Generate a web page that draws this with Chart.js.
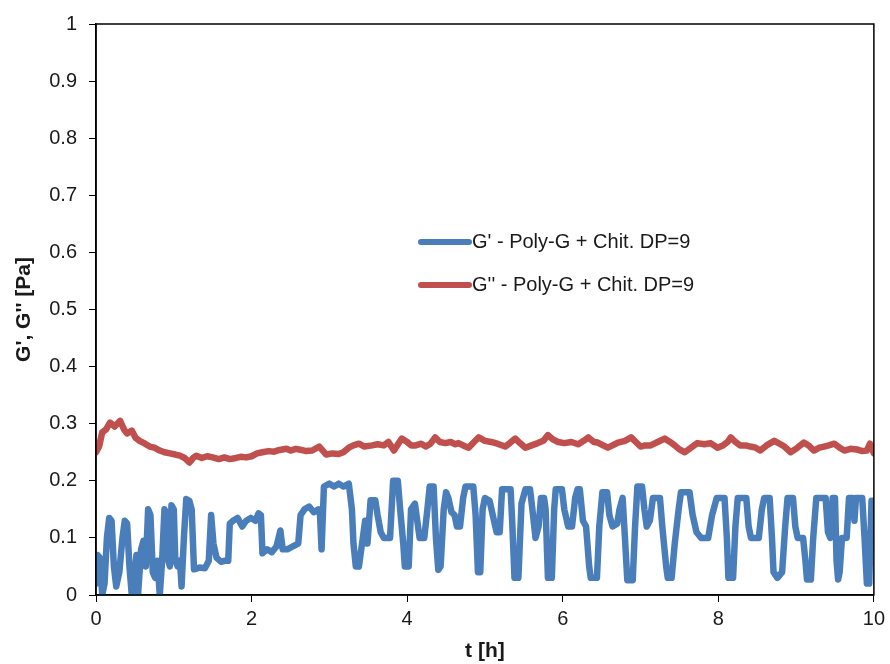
<!DOCTYPE html>
<html>
<head>
<meta charset="utf-8">
<script src="https://cdn.jsdelivr.net/npm/chart.js@4.4.1/dist/chart.umd.min.js"></script>
<style>
    html, body { margin: 0; padding: 0; background: #ffffff; }
    #wrap { width: 890px; height: 664px; }
</style>
</head>
<body>
<div id="wrap"><canvas id="rheo"></canvas></div>
<script>
// Storage modulus G' over time
const tStorage = [
    0.00, 0.02, 0.05, 0.08, 0.11, 0.14, 0.17, 0.20, 0.23, 0.26, 0.30, 0.34, 0.37, 0.40, 0.43, 0.46, 0.49, 0.52, 0.54, 0.58,
    0.61, 0.64, 0.67, 0.70, 0.73, 0.76, 0.79, 0.82, 0.85, 0.88, 0.91, 0.93, 0.95, 0.97, 1.00, 1.02, 1.05, 1.08, 1.10, 1.13,
    1.16, 1.20, 1.23, 1.26, 1.33, 1.40, 1.45, 1.48, 1.51, 1.55, 1.61, 1.66, 1.70, 1.72, 1.76, 1.82, 1.88, 1.93, 1.99, 2.05,
    2.09, 2.12, 2.14, 2.20, 2.26, 2.32, 2.37, 2.40, 2.46, 2.53, 2.60, 2.63, 2.68, 2.74, 2.80, 2.86, 2.88, 2.90, 2.93, 3.00,
    3.06, 3.12, 3.18, 3.25, 3.29, 3.31, 3.34, 3.38, 3.42, 3.46, 3.49, 3.53, 3.59, 3.62, 3.66, 3.70, 3.78, 3.82, 3.88, 3.91,
    3.95, 3.97, 4.02, 4.05, 4.10, 4.13, 4.16, 4.22, 4.26, 4.29, 4.34, 4.37, 4.40, 4.43, 4.47, 4.50, 4.53, 4.57, 4.61, 4.64,
    4.68, 4.72, 4.75, 4.85, 4.88, 4.91, 4.94, 4.97, 5.00, 5.06, 5.10, 5.15, 5.19, 5.22, 5.33, 5.35, 5.38, 5.43, 5.47, 5.52,
    5.58, 5.61, 5.65, 5.69, 5.72, 5.76, 5.78, 5.81, 5.86, 5.89, 5.91, 5.99, 6.02, 6.07, 6.12, 6.16, 6.19, 6.22, 6.26, 6.30,
    6.34, 6.36, 6.44, 6.47, 6.51, 6.57, 6.60, 6.64, 6.70, 6.73, 6.77, 6.80, 6.83, 6.90, 6.93, 6.96, 7.02, 7.05, 7.08, 7.12,
    7.16, 7.25, 7.28, 7.33, 7.35, 7.40, 7.44, 7.49, 7.52, 7.63, 7.67, 7.72, 7.78, 7.87, 7.92, 7.98, 8.08, 8.11, 8.13, 8.19,
    8.22, 8.25, 8.36, 8.39, 8.42, 8.52, 8.56, 8.59, 8.66, 8.69, 8.71, 8.76, 8.82, 8.86, 8.89, 8.96, 8.99, 9.02, 9.09, 9.12,
    9.14, 9.19, 9.22, 9.26, 9.38, 9.41, 9.44, 9.47, 9.50, 9.52, 9.54, 9.56, 9.59, 9.65, 9.68, 9.73, 9.75, 9.77, 9.85, 9.88,
    9.91, 9.94, 9.97, 10.00
];
const gStorage = [
    0.020, 0.070, 0.065, 0.000, 0.020, 0.100, 0.135, 0.130, 0.050, 0.015, 0.040, 0.100, 0.130, 0.125, 0.050, 0.000, 0.030, 0.070, 0.000, 0.080,
    0.095, 0.050, 0.150, 0.140, 0.040, 0.030, 0.060, 0.000, 0.060, 0.150, 0.140, 0.060, 0.050, 0.157, 0.150, 0.060, 0.050, 0.060, 0.015, 0.100,
    0.168, 0.165, 0.150, 0.045, 0.048, 0.047, 0.060, 0.140, 0.090, 0.065, 0.058, 0.060, 0.060, 0.125, 0.130, 0.135, 0.120, 0.130, 0.135, 0.130,
    0.143, 0.140, 0.073, 0.080, 0.075, 0.085, 0.113, 0.080, 0.080, 0.085, 0.090, 0.140, 0.150, 0.155, 0.145, 0.150, 0.140, 0.080, 0.190, 0.195,
    0.190, 0.195, 0.190, 0.195, 0.150, 0.090, 0.050, 0.050, 0.090, 0.130, 0.090, 0.166, 0.166, 0.140, 0.110, 0.100, 0.100, 0.200, 0.200, 0.150,
    0.090, 0.050, 0.050, 0.150, 0.160, 0.130, 0.100, 0.100, 0.150, 0.190, 0.190, 0.100, 0.044, 0.050, 0.150, 0.180, 0.170, 0.145, 0.140, 0.120,
    0.120, 0.170, 0.190, 0.190, 0.140, 0.040, 0.040, 0.150, 0.170, 0.165, 0.140, 0.110, 0.110, 0.185, 0.185, 0.130, 0.030, 0.030, 0.160, 0.185,
    0.185, 0.150, 0.100, 0.120, 0.170, 0.170, 0.150, 0.030, 0.030, 0.150, 0.185, 0.185, 0.150, 0.120, 0.120, 0.170, 0.185, 0.185, 0.130, 0.120,
    0.050, 0.030, 0.030, 0.120, 0.180, 0.180, 0.140, 0.120, 0.125, 0.150, 0.170, 0.100, 0.026, 0.026, 0.120, 0.190, 0.190, 0.150, 0.120, 0.130,
    0.170, 0.170, 0.120, 0.050, 0.030, 0.030, 0.090, 0.150, 0.180, 0.180, 0.140, 0.110, 0.100, 0.100, 0.140, 0.170, 0.170, 0.100, 0.030, 0.030,
    0.120, 0.170, 0.170, 0.120, 0.100, 0.100, 0.150, 0.170, 0.170, 0.100, 0.040, 0.030, 0.040, 0.120, 0.170, 0.170, 0.120, 0.100, 0.100, 0.060,
    0.027, 0.027, 0.100, 0.170, 0.170, 0.110, 0.100, 0.170, 0.170, 0.060, 0.027, 0.040, 0.100, 0.100, 0.170, 0.170, 0.130, 0.170, 0.170, 0.100,
    0.020, 0.020, 0.165, 0.165
];

// Loss modulus G'' over time
const tLoss = [
    0.00, 0.04, 0.08, 0.13, 0.18, 0.24, 0.31, 0.36, 0.40, 0.46, 0.51, 0.56, 0.63, 0.69, 0.75, 0.82, 0.88, 0.95, 1.02, 1.08,
    1.14, 1.20, 1.25, 1.29, 1.36, 1.43, 1.50, 1.58, 1.65, 1.72, 1.80, 1.86, 1.93, 2.00, 2.07, 2.14, 2.22, 2.29, 2.36, 2.45,
    2.50, 2.57, 2.64, 2.70, 2.78, 2.87, 2.96, 3.04, 3.12, 3.18, 3.25, 3.31, 3.38, 3.45, 3.55, 3.62, 3.70, 3.76, 3.83, 3.93,
    4.00, 4.05, 4.11, 4.18, 4.24, 4.30, 4.36, 4.42, 4.49, 4.56, 4.62, 4.66, 4.72, 4.79, 4.86, 4.92, 5.00, 5.08, 5.16, 5.26,
    5.32, 5.39, 5.45, 5.52, 5.60, 5.68, 5.75, 5.81, 5.88, 5.94, 6.02, 6.11, 6.20, 6.27, 6.33, 6.40, 6.45, 6.52, 6.58, 6.64,
    6.71, 6.80, 6.88, 6.94, 7.00, 7.06, 7.13, 7.22, 7.31, 7.38, 7.44, 7.50, 7.57, 7.65, 7.73, 7.82, 7.90, 7.99, 8.06, 8.12,
    8.16, 8.22, 8.28, 8.35, 8.41, 8.48, 8.54, 8.62, 8.72, 8.80, 8.85, 8.93, 9.00, 9.10, 9.16, 9.23, 9.30, 9.36, 9.42, 9.49,
    9.56, 9.62, 9.70, 9.78, 9.85, 9.91, 9.95, 10.00
];
const gLoss = [
    0.250, 0.260, 0.285, 0.290, 0.302, 0.295, 0.305, 0.290, 0.283, 0.288, 0.275, 0.270, 0.265, 0.260, 0.258, 0.253, 0.250, 0.248, 0.246, 0.244,
    0.240, 0.232, 0.240, 0.244, 0.240, 0.243, 0.241, 0.238, 0.241, 0.238, 0.240, 0.242, 0.241, 0.243, 0.248, 0.250, 0.252, 0.251, 0.254, 0.256,
    0.253, 0.256, 0.254, 0.252, 0.253, 0.260, 0.246, 0.248, 0.247, 0.250, 0.258, 0.262, 0.265, 0.260, 0.262, 0.264, 0.262, 0.268, 0.253, 0.274,
    0.268, 0.262, 0.262, 0.265, 0.260, 0.265, 0.276, 0.268, 0.266, 0.268, 0.264, 0.266, 0.262, 0.258, 0.268, 0.276, 0.270, 0.268, 0.265, 0.260,
    0.266, 0.274, 0.266, 0.258, 0.262, 0.266, 0.270, 0.280, 0.272, 0.268, 0.266, 0.268, 0.264, 0.270, 0.276, 0.268, 0.267, 0.262, 0.258, 0.262,
    0.267, 0.270, 0.276, 0.268, 0.260, 0.262, 0.262, 0.268, 0.274, 0.268, 0.262, 0.255, 0.250, 0.258, 0.266, 0.264, 0.266, 0.258, 0.262, 0.268,
    0.276, 0.268, 0.262, 0.262, 0.260, 0.258, 0.253, 0.262, 0.270, 0.264, 0.260, 0.250, 0.256, 0.267, 0.262, 0.253, 0.258, 0.260, 0.262, 0.265,
    0.258, 0.253, 0.256, 0.255, 0.252, 0.253, 0.265, 0.248
];

const xTicks = [0, 2, 4, 6, 8, 10];
const yTicks = [0, 0.1, 0.2, 0.3, 0.4, 0.5, 0.6, 0.7, 0.8, 0.9, 1];

const seriesLabels = ["G' - Poly-G + Chit. DP=9", "G'' - Poly-G + Chit. DP=9"];

function toPoints(xs, ys) {
    return xs.map((x, i) => ({ x: x, y: ys[i] }));
}

const FONT = "'Liberation Sans', Arial, sans-serif";
const TEXT = '#1a1a1a';

// frame around the plot area, Excel style
const framePlugin = {
    id: 'frame',
    afterDraw(chart) {
        const a = chart.chartArea;
        const ctx = chart.ctx;
        ctx.save();
        ctx.strokeStyle = '#000000';
        ctx.lineWidth = 1.5;
        ctx.strokeRect(a.left, a.top, a.right - a.left, a.bottom - a.top);
        ctx.restore();
    }
};

// legend sitting inside the plot
const innerLegend = {
    id: 'innerLegend',
    afterDraw(chart, args, opts) {
        const ctx = chart.ctx;
        ctx.save();
        ctx.font = opts.font;
        ctx.textBaseline = 'middle';
        chart.data.datasets.forEach((ds, i) => {
            const y = opts.y + i * opts.rowGap;
            ctx.strokeStyle = ds.borderColor;
            ctx.lineWidth = 6;
            ctx.lineCap = 'round';
            ctx.beginPath();
            ctx.moveTo(opts.x, y);
            ctx.lineTo(opts.x + opts.lineLen, y);
            ctx.stroke();
            ctx.fillStyle = TEXT;
            ctx.fillText(ds.label, opts.x + opts.lineLen + 3, y);
        });
        ctx.restore();
    }
};

new Chart(document.getElementById('rheo'), {
    type: 'line',
    data: {
        datasets: [
            {
                label: seriesLabels[0],
                data: toPoints(tStorage, gStorage),
                borderColor: '#4a7ebb',
                borderWidth: 6.5,
                borderJoinStyle: 'round',
                borderCapStyle: 'round',
                pointRadius: 0,
                tension: 0
            },
            {
                label: seriesLabels[1],
                data: toPoints(tLoss, gLoss),
                borderColor: '#c0504d',
                borderWidth: 6.5,
                borderJoinStyle: 'round',
                borderCapStyle: 'round',
                pointRadius: 0,
                tension: 0
            }
        ]
    },
    options: {
        responsive: true,
        maintainAspectRatio: false,
        animation: false,
        layout: { padding: { top: 22, right: 13, left: 0, bottom: 0 } },
        plugins: {
            legend: { display: false },
            tooltip: { enabled: false },
            innerLegend: {
                x: 421, y: 242, rowGap: 43, lineLen: 48,
                font: "20px " + FONT
            }
        },
        scales: {
            x: {
                type: 'linear',
                min: 0,
                max: 10,
                afterBuildTicks: (s) => { s.ticks = xTicks.map(v => ({ value: v })); },
                afterFit: (s) => { s.height = 69; },
                grid: { drawOnChartArea: false, tickLength: 7, color: '#000', tickColor: '#000' },
                border: { color: '#000', width: 1.5 },
                ticks: { color: TEXT, font: { family: FONT, size: 20 }, padding: 5, maxRotation: 0 },
                title: { display: true, text: 't [h]', color: TEXT, font: { family: FONT, size: 21, weight: 'bold' }, padding: { top: 0, bottom: 0 } }
            },
            y: {
                min: 0,
                max: 1,
                afterBuildTicks: (s) => { s.ticks = yTicks.map(v => ({ value: v })); },
                afterFit: (s) => { s.width = 96; },
                grid: { drawOnChartArea: false, tickLength: 7, color: '#000', tickColor: '#000' },
                border: { color: '#000', width: 1.5 },
                ticks: {
                    color: TEXT,
                    font: { family: FONT, size: 20 },
                    padding: 12,
                    callback: (v) => String(Math.round(v * 10) / 10)
                },
                title: { display: true, text: "G', G'' [Pa]", color: TEXT, font: { family: FONT, size: 21, weight: 'bold' }, padding: { top: 12, bottom: 0 } }
            }
        }
    },
    plugins: [framePlugin, innerLegend]
});
</script>
</body>
</html>
